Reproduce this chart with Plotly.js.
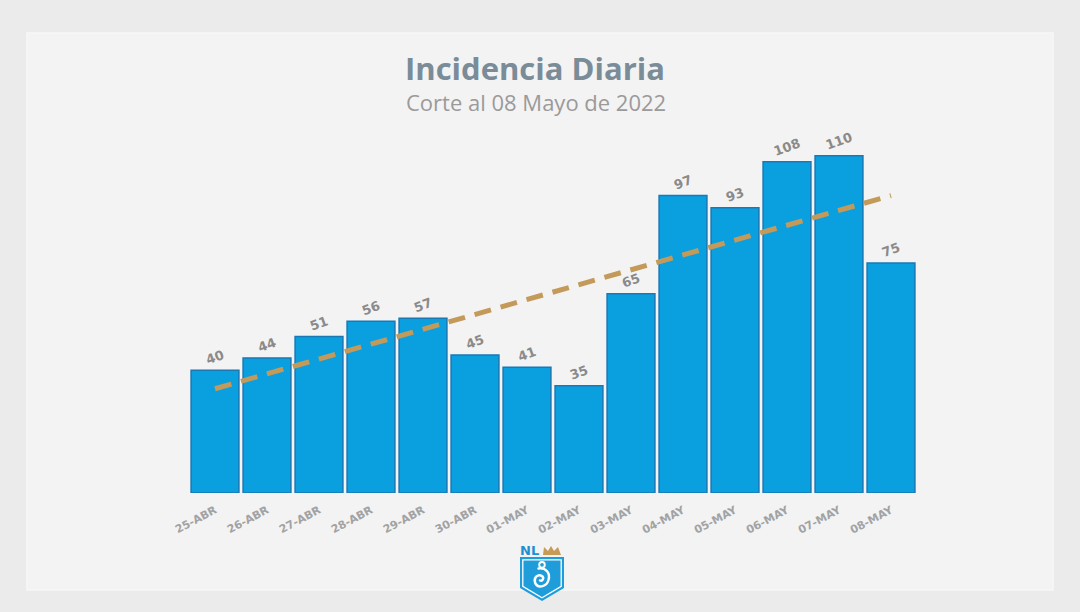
<!DOCTYPE html>
<html>
<head>
<meta charset="utf-8">
<script src="https://cdn.plot.ly/plotly-3.0.1.min.js"></script>
<style>
  html, body { margin: 0; padding: 0; background: #ebebeb; }
  #chart { width: 1080px; height: 612px; }
</style>
</head>
<body>
<div id="chart"></div>
<script>
// Daily incidence, one bar per day
const dias = ['25-ABR', '26-ABR', '27-ABR', '28-ABR', '29-ABR', '30-ABR', '01-MAY',
              '02-MAY', '03-MAY', '04-MAY', '05-MAY', '06-MAY', '07-MAY', '08-MAY'];
const casos = [40, 44, 51, 56, 57, 45, 41, 35, 65, 97, 93, 108, 110, 75];

// Linear trend line, first and last day
const tendenciaDias = ['25-ABR', '08-MAY'];
const tendenciaValores = [34, 97];

const titulo = 'Incidencia Diaria';
const subtitulo = 'Corte al 08 Mayo de 2022';

// State shield emblem (blue shield, NL letters, gold crown)
const escudoSvg =
  '<svg xmlns="http://www.w3.org/2000/svg" viewBox="0 0 46 58" width="46" height="58">' +
  '<text x="1" y="12" font-family="DejaVu Sans, sans-serif" font-weight="bold" font-size="13" fill="#1f8fd0">NL</text>' +
  '<path d="M24 12 L25 4 L29 8 L32 3 L35 8 L39 4 L42 12 Z" fill="#c79a55"/>' +
  '<path d="M1 14 H45 V45 L23 58 L1 45 Z" fill="#1f9ddb"/>' +
  '<path d="M3.8 16.8 H42.2 V43.4 L23 54.8 L3.8 43.4 Z" fill="none" stroke="#ffffff" stroke-width="1.3"/>' +
  '<circle cx="23" cy="21.8" r="2.8" fill="none" stroke="#ffffff" stroke-width="1.9"/>' +
  '<path d="M19.5 25.5 C27 24.5 31.5 30 29.5 37 C27.5 44.5 18 45.5 16 39.5 C14.5 34.5 19 30.5 23 33 C25.5 35 23.5 38.5 21 37.5" fill="none" stroke="#ffffff" stroke-width="2.4" stroke-linecap="round"/>' +
  '</svg>';

const barras = {
  type: 'bar',
  x: dias,
  y: casos,
  text: casos.map(String),
  textposition: 'outside',
  textangle: -20,
  cliponaxis: false,
  textfont: { family: 'DejaVu Sans, sans-serif', size: 13, color: '#8a8a8a', weight: 700 },
  marker: { color: '#0aa0e0', line: { color: '#1a78b4', width: 1.5 } },
  hoverinfo: 'x+y',
  showlegend: false
};

const tendencia = {
  type: 'scatter',
  mode: 'lines',
  x: tendenciaDias,
  y: tendenciaValores,
  line: { color: '#c49a5a', width: 5, dash: '17px,10px' },
  hoverinfo: 'skip',
  showlegend: false
};

const layout = {
  width: 1080,
  height: 612,
  margin: { l: 189, r: 163, t: 125, b: 119, pad: 0 },
  paper_bgcolor: '#ebebeb',
  plot_bgcolor: 'rgba(0,0,0,0)',
  bargap: 0.08,
  font: { family: 'Open Sans, sans-serif' },
  xaxis: {
    type: 'category',
    tickangle: -28,
    ticklabelstandoff: 8,
    tickfont: { family: 'DejaVu Sans, sans-serif', size: 11, color: '#a2a2a2', weight: 700 },
    showgrid: false,
    zeroline: false,
    showline: false,
    ticks: '',
    ticklen: 0,
    automargin: false
  },
  yaxis: {
    range: [0, 120],
    visible: false,
    fixedrange: true
  },
  shapes: [
    {
      type: 'rect', xref: 'paper', yref: 'paper', layer: 'below',
      x0: (27 - 189) / 728, x1: (1053 - 189) / 728,
      y0: (493 - 590) / 368, y1: (493 - 33) / 368,
      fillcolor: '#f3f3f3', line: { color: '#f8f8f8', width: 1.5 }
    }
  ],
  annotations: [
    {
      text: '<b>' + titulo + '</b>', xref: 'paper', yref: 'paper',
      x: (535 - 189) / 728, y: (493 - 68) / 368, xanchor: 'center', yanchor: 'middle',
      showarrow: false,
      font: { family: 'Open Sans, sans-serif', size: 31, color: '#7a8c98' }
    },
    {
      text: subtitulo, xref: 'paper', yref: 'paper',
      x: (536 - 189) / 728, y: (493 - 102) / 368, xanchor: 'center', yanchor: 'middle',
      showarrow: false,
      font: { family: 'Open Sans, sans-serif', size: 22, color: '#9a9a9a' }
    }
  ],
  images: [
    {
      source: 'data:image/svg+xml;charset=utf-8,' + encodeURIComponent(escudoSvg),
      xref: 'paper', yref: 'paper',
      x: (519 - 189) / 728, y: (493 - 543) / 368,
      sizex: 46 / 728, sizey: 58 / 368,
      xanchor: 'left', yanchor: 'top',
      sizing: 'stretch', layer: 'above'
    }
  ]
};

Plotly.newPlot('chart', [barras, tendencia], layout, { displayModeBar: false, staticPlot: true });
</script>
</body>
</html>
